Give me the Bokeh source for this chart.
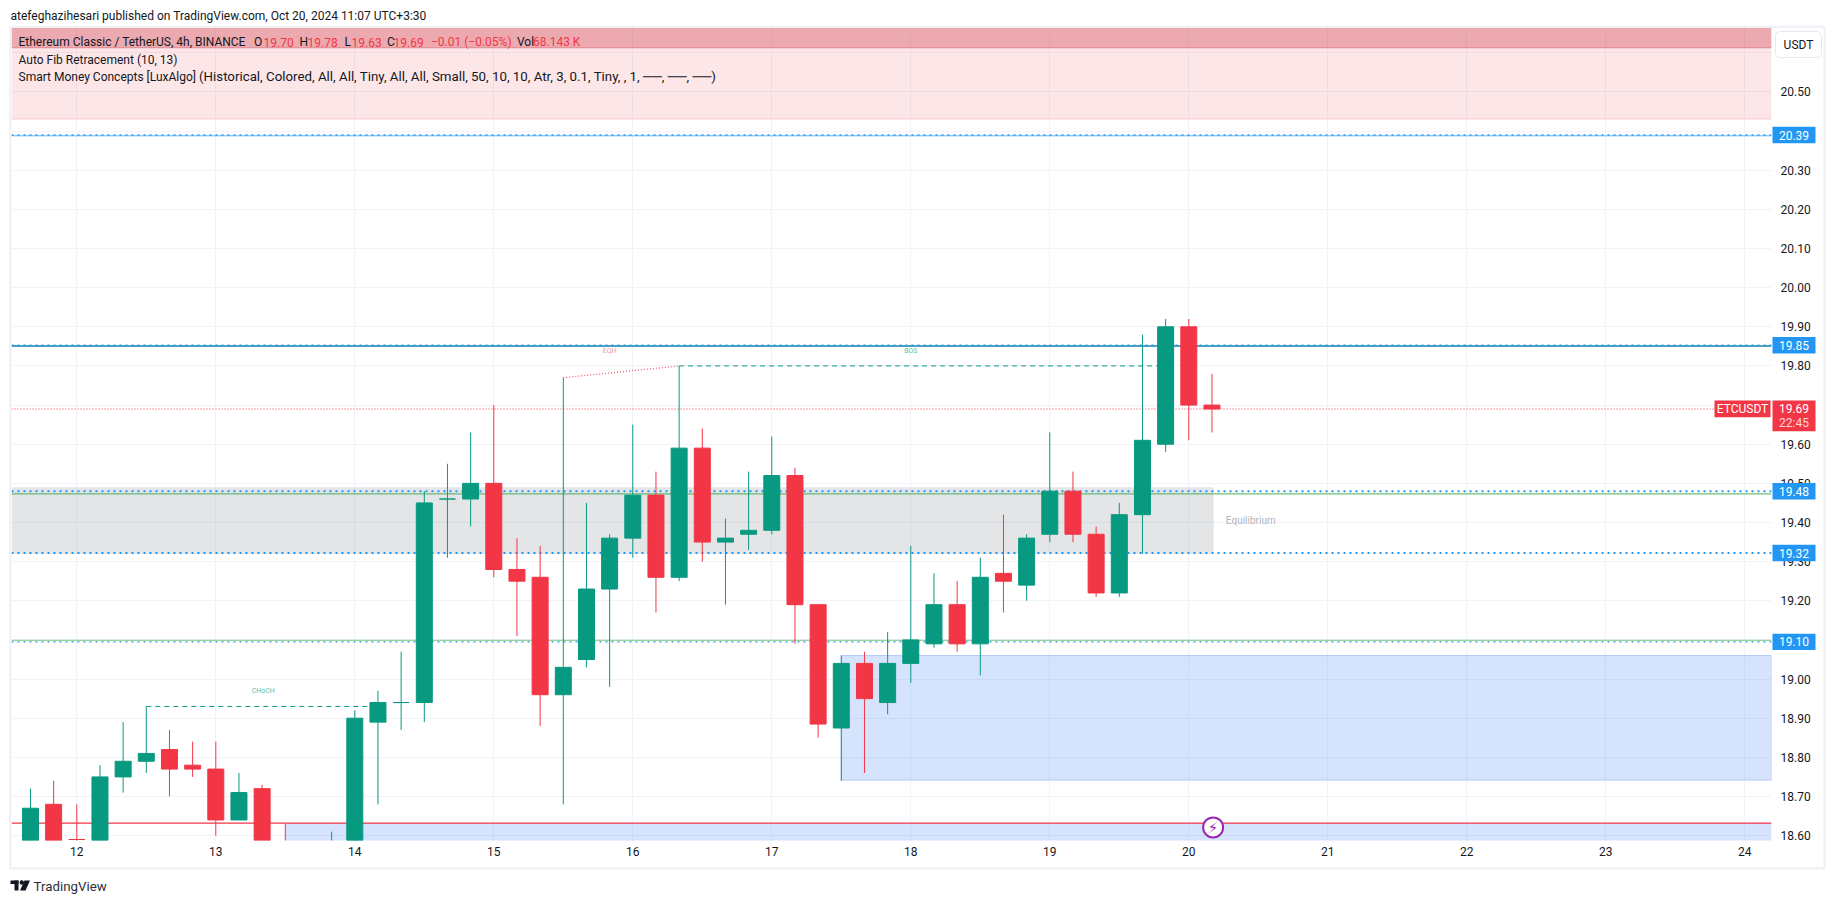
from bokeh.plotting import figure
from bokeh.models import Range1d, FixedTicker, NumeralTickFormatter, ColumnDataSource, GridBox
from bokeh.core.properties import value
from bokeh.embed import file_html
from bokeh.resources import INLINE

nan = float("nan")
# 4h candles: bar index counted from the 12th (6 bars per day). Bar 10 lies wholly below the visible scale.
bars = [-2,-1,0,1,2,3,4,5,6,7,8,9,11,12,13,14,15,16,17,18,19,20,21,22,23,24,25,26,27,28,29,30,31,32,33,34,35,36,37,38,39,40,41,42,43,44,45,46,47,48,49]
opens  = [18.50,18.68,18.59,18.50,18.75,18.79,18.82,18.78,18.77,18.64,18.72,nan,nan,18.50,18.89,18.94,18.94,
          19.46,19.46,19.50,19.28,19.26,18.96,19.05,19.23,19.36,19.47,19.26,19.59,19.35,19.37,19.38,19.52,19.19,18.875,
          19.04,18.94,19.04,19.09,19.19,19.09,19.27,19.24,19.37,19.48,19.37,19.22,19.42,19.60,19.90,19.70]
closes = [18.67,18.50,18.59,18.75,18.79,18.81,18.77,18.77,18.64,18.71,18.45,nan,nan,18.90,18.94,18.94,19.45,
          19.46,19.50,19.28,19.25,18.96,19.03,19.23,19.36,19.47,19.26,19.59,19.35,19.36,19.38,19.52,19.19,18.885,19.04,
          18.95,19.04,19.10,19.19,19.09,19.26,19.25,19.36,19.48,19.37,19.22,19.42,19.61,19.90,19.70,19.69]
highs  = [18.72,18.74,18.68,18.78,18.89,18.93,18.87,18.84,18.84,18.76,18.73,18.63,18.61,18.92,18.97,19.07,19.48,
          19.55,19.63,19.70,19.36,19.34,19.77,19.45,19.37,19.65,19.53,19.80,19.64,19.41,19.53,19.62,19.54,19.19,19.06,
          19.07,19.12,19.34,19.27,19.25,19.31,19.42,19.37,19.63,19.53,19.39,19.45,19.88,19.92,19.92,19.78]
lows   = [18.45,18.45,18.55,18.45,18.71,18.76,18.70,18.75,18.60,18.64,18.40,18.40,18.45,18.50,18.68,18.87,18.89,
          19.31,19.39,19.26,19.11,18.88,18.68,19.03,18.98,19.31,19.17,19.25,19.30,19.19,19.33,19.37,19.09,18.85,18.74,
          18.76,18.91,18.99,19.08,19.07,19.01,19.17,19.20,19.35,19.35,19.21,19.21,19.32,19.58,19.61,19.63]
day_ticks = list(range(12, 25))
price_ticks = [18.6,18.7,18.8,18.9,19.0,19.1,19.2,19.3,19.4,19.5,19.6,19.7,19.8,19.9,20.0,20.1,20.2,20.3,20.4,20.5]
level_prices = [20.39, 19.853, 19.48, 19.322, 19.095]
level_labels = ["20.39", "19.85", "19.48", "19.32", "19.10"]
last_price = 19.69

GREEN, RED, BLUE = "#089981", "#f23645", "#2196f3"
FONT = "Roboto"
TXT = "#131722"
W, H = 1827, 895

x = [12 + b / 6 for b in bars]
rows = dict(x=x, c=closes, o=opens, h=highs, l=lows,
            top=[max(a, b) for a, b in zip(opens, closes)],
            bottom=[min(a, b) for a, b in zip(opens, closes)],
            color=[GREEN if c >= o else RED for o, c in zip(opens, closes)])
for b, col in ((0, RED), (14, GREEN), (9, RED), (11, GREEN)):
    rows["color"][bars.index(b)] = col
src = ColumnDataSource(rows)

p = figure(width=W, height=H, output_backend="svg", toolbar_location=None, frame_align=False,
           x_range=Range1d(12 + (11 - 76.3) / 139, 12 + (1771 - 76.3) / 139),
           y_range=Range1d(19.90 - (840 - 326.3) / 391.4, 19.90 + (326.3 - 27) / 391.4),
           min_border_left=11, min_border_right=W - 1771, min_border_top=27, min_border_bottom=H - 840,
           y_axis_location="right", background_fill_color="white", border_fill_color="white")
p.outline_line_color = None
for ax, ticks in ((p.xaxis, day_ticks), (p.yaxis, price_ticks)):
    ax.ticker = FixedTicker(ticks=ticks)
    ax.axis_line_color = None
    ax.major_tick_line_color = None
    ax.minor_tick_line_color = None
    ax.major_tick_out = 0
    ax.major_tick_in = 0
    ax.major_label_text_font = FONT
    ax.major_label_text_font_size = "12px"
    ax.major_label_text_color = TXT
p.yaxis.formatter = NumeralTickFormatter(format="0.00")
p.xaxis.formatter = NumeralTickFormatter(format="0")
p.yaxis.major_label_standoff = 9
p.xaxis.major_label_standoff = 6
p.xgrid.ticker = FixedTicker(ticks=day_ticks)
p.ygrid.ticker = FixedTicker(ticks=price_ticks + [20.6])
p.xgrid.grid_line_color = "#f0f3fa"
p.ygrid.grid_line_color = "#f0f3fa"

L, R = p.x_range.start, p.x_range.end
T, B = p.y_range.end, p.y_range.start
d = lambda b: 12 + b / 6

# zones
p.quad(left=L, right=R, bottom=20.431, top=T, fill_color=RED, fill_alpha=0.125, line_color=None)
p.segment(x0=L, x1=R, y0=20.431, y1=20.431, line_color="#fbc9cb", line_width=1)
p.quad(left=L, right=R, bottom=20.613, top=T, fill_color="#c82130", fill_alpha=0.3, line_color=None)
p.segment(x0=L, x1=R, y0=20.613, y1=20.613, line_color="#e08a8e", line_width=1)
p.quad(left=L, right=d(49.07), bottom=19.32, top=19.49, fill_color="#787b86", fill_alpha=0.2, line_color=None)
p.quad(left=d(33), right=R, bottom=18.742, top=19.06, fill_color="#2d73f5", fill_alpha=0.2,
       line_color="#b2c9f5", line_width=1)
p.quad(left=d(9), right=R, bottom=B - 0.1, top=18.632, fill_color="#2d73f5", fill_alpha=0.2, line_color=None)

# solid levels under the dotted ones
p.segment(x0=L, x1=R, y0=20.388, y1=20.388, line_color="#64b5f6", line_width=1)
p.segment(x0=L, x1=R, y0=19.851, y1=19.851, line_color="#127fa8", line_width=1.3)
p.segment(x0=L, x1=R, y0=19.473, y1=19.473, line_color="#4caf50", line_width=1)
p.segment(x0=L, x1=R, y0=19.099, y1=19.099, line_color="#81c784", line_width=1)
p.segment(x0=L, x1=R, y0=18.632, y1=18.632, line_color=RED, line_width=1.4)
for lv, lw in zip(level_prices, (1.3, 1.3, 2, 2, 1.3)):
    p.segment(x0=L, x1=R, y0=lv, y1=lv, line_color=BLUE, line_width=lw, line_dash="2 4")
p.segment(x0=L, x1=(1714 - 76.3) / 139 + 12, y0=last_price, y1=last_price, line_color=RED, line_width=1.2, line_dash="1 2")

# structure lines
p.segment(x0=d(3), x1=d(13), y0=18.93, y1=18.93, line_color=GREEN, line_width=1, line_dash="5 4")
p.segment(x0=d(26), x1=d(47), y0=19.80, y1=19.80, line_color=GREEN, line_width=1, line_dash="5 4")
p.segment(x0=d(21), x1=d(26), y0=19.77, y1=19.80, line_color="#f0606c", line_width=1.3, line_dash="1 2")

# candles
p.segment(x0="x", x1="x", y0="l", y1="h", line_color="color", line_width=1, source=src)
p.vbar(x="x", width=16 / 139, top="top", bottom="bottom", fill_color="color", line_color="color", line_width=1, source=src)

# chart annotations
notes = [("CHoCH", d(8.05), 18.97, "#5fbfa9", "7px", "center"),
         ("EQH", d(23.0), 19.838, "#f59aa2", "7px", "center"),
         ("BOS", d(36), 19.838, "#5fbfa9", "7px", "center"),
         ("Equilibrium", d(49.6), 19.405, "#b2b5be", "10px", "left")]
for t, nx, ny, col, size, al in notes:
    p.text(x=[nx], y=[ny], text=[t], text_color=col, text_font=value(FONT), text_font_size=size,
           text_align=al, text_baseline="middle")

# lightning marker
p.scatter(x=[d(49.05)], y=[18.621], size=20, marker="circle", fill_color="white",
          line_color="#9c27b0", line_width=2)
p.text(x=[d(49.05)], y=[18.619], text=["⚡"], text_color="#9c27b0", text_font=value("DejaVu Sans"),
       text_font_size="15px", text_align="center", text_baseline="middle")

# transparent layer on the same grid cell, for what lies outside the plot frame
o = figure(width=W, height=H, output_backend="svg", toolbar_location=None, frame_align=False,
           x_range=Range1d(0, W), y_range=Range1d(H, 0), x_axis_type=None, y_axis_type=None,
           min_border=0, min_border_left=0, min_border_right=0, min_border_top=0, min_border_bottom=0,
           background_fill_alpha=0, border_fill_alpha=0)
o.outline_line_color = None
o.grid.visible = False
o.extra_y_ranges = {"price": Range1d(19.90 - (H - 326.3) / 391.4, 19.90 + 326.3 / 391.4)}

o.quad(left=9.8, right=1824, top=26.2, bottom=868, fill_alpha=0, line_color="#eef0f5", line_width=2)

tag_h = 8.2 / 391.4
def tag(txt, price, left, right, col):
    o.quad(left=left, right=right, top=price + tag_h, bottom=price - tag_h, fill_color=col, line_color=None,
           y_range_name="price")
    o.text(x=[(left + right) / 2], y=[price], text=[txt], text_color="white", text_font=value(FONT),
           text_font_size="12px", text_align="center", text_baseline="middle", y_range_name="price")
for lv, lab in zip(level_prices, level_labels):
    tag(lab, lv, 1772, 1815, BLUE)
# last price: two-line tag
o.quad(left=1772, right=1815, top=400, bottom=430.7, fill_color=RED, line_color=None)
o.text(x=[1793.5], y=[last_price], text=["19.69"], text_color="white", text_font=value(FONT), text_font_size="12px",
       text_align="center", text_baseline="middle", y_range_name="price")
o.text(x=[1793.5], y=[422.5], text=["22:45"], text_color="#fcd5d8", text_font=value(FONT), text_font_size="12px",
       text_align="center", text_baseline="middle")
o.quad(left=1714, right=1770, top=400, bottom=416.7, fill_color=RED, line_color=None)
o.text(x=[1742], y=[408.3], text=["ETCUSDT"], text_color="white", text_font=value(FONT), text_font_size="12px",
       text_align="center", text_baseline="middle")
# USDT button
o.quad(left=1775, right=1821, top=31, bottom=57, fill_color="white", line_color="#e6e8ef", line_width=1, border_radius=4)
o.text(x=[1798], y=[44.5], text=["USDT"], text_color=TXT, text_font=value(FONT), text_font_size="12px",
       text_align="center", text_baseline="middle")

# header and legend
def head(txt, px, py, col=TXT, size="12px"):
    o.text(x=[px], y=[py], text=[txt], text_color=col, text_font=value(FONT), text_font_size=size,
           text_align="left", text_baseline="middle")
head("atefeghazihesari published on TradingView.com, Oct 20, 2024 11:07 UTC+3:30", 10, 15.5)
head("Ethereum Classic / TetherUS, 4h, BINANCE", 18, 41.7)
head("O", 253.5, 41.7); head("19.70", 263, 41.7, RED)
head("H", 299, 41.7); head("19.78", 307, 41.7, RED)
head("L", 344, 41.7); head("19.63", 351, 41.7, RED)
head("C", 386.5, 41.7); head("19.69", 393, 41.7, RED)
head("−0.01 (−0.05%)", 430.5, 41.7, RED)
head("Vol", 516.5, 41.7); head("68.143 K", 532.5, 41.7, RED)
head("Auto Fib Retracement (10, 13)", 18, 59)
head("Smart Money Concepts [LuxAlgo]", 18, 76.3)
head("(Historical, Colored, All, All, Tiny, All, All, Small, 50, 10, 10, Atr, 3, 0.1, Tiny, , 1, ──, ──, ──)", 198.5, 76.3, size="13.3px")

# footer logo and wordmark
LOGO = "#131722"
o.quad(left=10, right=18, top=880, bottom=883.5, fill_color=LOGO, line_color=None)
o.quad(left=14, right=18, top=880, bottom=890, fill_color=LOGO, line_color=None)
o.scatter(x=[21.3], y=[882], size=4.4, marker="circle", fill_color=LOGO, line_color=None)
o.patch(x=[24, 29.5, 25, 19.5], y=[880, 880, 890, 890], fill_color=LOGO, line_color=None)
head("TradingView", 33, 885.5, "#2a2e39", "13.3px")

grid = GridBox(children=[(p, 0, 0), (o, 0, 0)])
open("out.html", "w").write(file_html(grid, INLINE))
